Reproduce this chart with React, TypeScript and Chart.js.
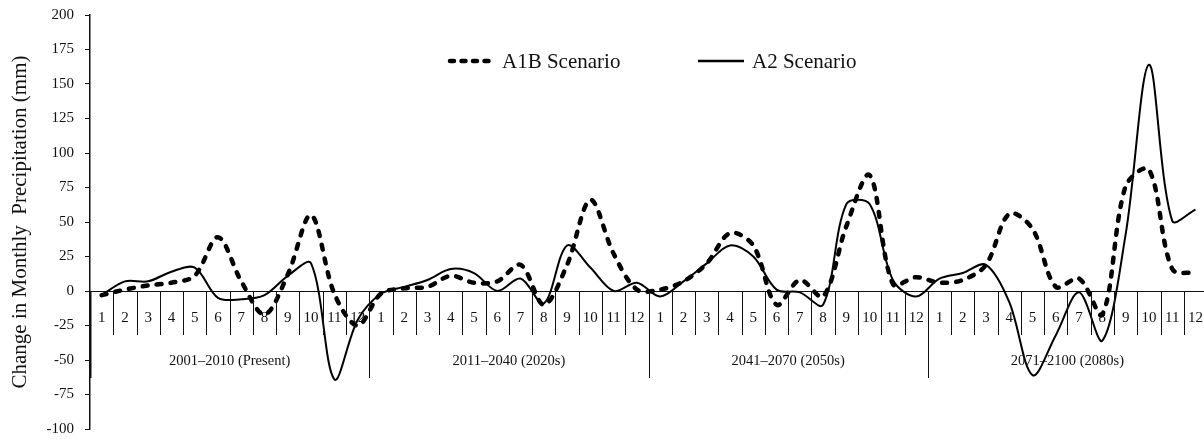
import React, { useEffect, useRef } from "react";
import { Chart, registerables } from "chart.js";

Chart.register(...registerables);

const monthLabels = ["1", "2", "3", "4", "5", "6", "7", "8", "9", "10", "11", "12"];
const periodLabels = [
  "2001–2010 (Present)",
  "2011–2040 (2020s)",
  "2041–2070 (2050s)",
  "2071–2100 (2080s)",
];

const a1bPresent = [-3, 1, 4, 6, 11, 39, 7, -17, 12, 55, -2, -25];
const a1b2020s = [-2, 2, 3, 11, 6, 7, 19, -10, 19, 66, 27, 1];
const a1b2050s = [1, 7, 20, 42, 33, -10, 8, -4, 47, 84, 5, 10];
const a1b2080s = [6, 8, 19, 56, 45, 3, 9, -17, 76, 88, 16, 13];

const a2Present = [-3, 7, 7, 14, 17, -5, -6, -3, 11, 20, -64, -21];
const a22020s = [-2, 3, 8, 16, 13, 0, 9, -9, 33, 17, 0, 6];
const a22050s = [-4, 7, 20, 33, 25, 1, -1, -10, 63, 63, 8, -4];
const a22080s = [9, 13, 19, -8, -61, -32, -1, -36, 41, 164, 51, 59];

const yMin = -100;
const yMax = 200;
const yStep = 25;

const seriesNames = ["A1B Scenario", "A2 Scenario"];
const FONT = "'Liberation Serif', 'Times New Roman', serif";
const SHIFT = 5;

export default function App() {
  const canvasRef = useRef<HTMLCanvasElement | null>(null);

  useEffect(() => {
    if (!canvasRef.current) return;
    const labels = [...monthLabels, ...monthLabels, ...monthLabels, ...monthLabels];
    const a1b = [...a1bPresent, ...a1b2020s, ...a1b2050s, ...a1b2080s];
    const a2 = [...a2Present, ...a22020s, ...a22050s, ...a22080s];

    const decorations = {
      id: "decorations",
      afterDraw(chart: any) {
        const ctx = chart.ctx;
        const xs = chart.scales.x;
        const ys = chart.scales.y;
        const y0 = ys.getPixelForValue(0);
        const step = xs.getPixelForValue(1) - xs.getPixelForValue(0);
        ctx.save();
        ctx.strokeStyle = "#111";
        ctx.lineWidth = 1;
        for (let i = 0; i < labels.length; i++) {
          const x = Math.round(xs.getPixelForValue(i) - step / 2) + 0.5;
          const long = i % monthLabels.length === 0;
          ctx.beginPath();
          ctx.moveTo(x, y0);
          ctx.lineTo(x, y0 + (long ? 87 : 44));
          ctx.lineWidth = long && i === 0 ? 2 : 1;
          ctx.stroke();
        }
        ctx.fillStyle = "#111";
        ctx.font = `14.5px ${FONT}`;
        ctx.textAlign = "center";
        ctx.textBaseline = "middle";
        for (let p = 0; p < periodLabels.length; p++) {
          const a = xs.getPixelForValue(p * 12) - step / 2;
          const b = xs.getPixelForValue(p * 12 + 11) + step / 2;
          ctx.fillText(periodLabels[p], (a + b) / 2, y0 + 70);
        }
        // legend
        const ly = 61 + SHIFT;
        ctx.strokeStyle = "#000";
        ctx.lineCap = "round";
        ctx.lineWidth = 4.5;
        ctx.setLineDash([4, 7.5]);
        ctx.beginPath();
        ctx.moveTo(450, ly);
        ctx.lineTo(491, ly);
        ctx.stroke();
        ctx.setLineDash([]);
        ctx.lineCap = "butt";
        ctx.lineWidth = 2.5;
        ctx.beginPath();
        ctx.moveTo(698, ly);
        ctx.lineTo(744, ly);
        ctx.stroke();
        ctx.font = `21px ${FONT}`;
        ctx.textAlign = "left";
        ctx.fillStyle = "#111";
        ctx.fillText(seriesNames[0], 502, ly + 1);
        ctx.fillText(seriesNames[1], 752, ly + 1);
        ctx.restore();
      },
    };

    const chart = new Chart(canvasRef.current, {
      type: "line",
      data: {
        labels,
        datasets: [
          {
            label: seriesNames[0],
            data: a1b,
            borderColor: "#000",
            borderWidth: 4.5,
            borderDash: [5, 9],
            borderCapStyle: "round",
            pointRadius: 0,
            tension: 0.33,
            fill: false,
          },
          {
            label: seriesNames[1],
            data: a2,
            borderColor: "#000",
            borderWidth: 2,
            pointRadius: 0,
            tension: 0.33,
            fill: false,
          },
        ],
      },
      options: {
        responsive: false,
        animation: false,
        layout: { padding: { top: 0, bottom: 2, left: 0, right: 4 } },
        plugins: { legend: { display: false }, tooltip: { enabled: false } },
        scales: {
          x: {
            type: "category",
            position: { y: 0 } as any,
            offset: true,
            grid: { display: true, drawOnChartArea: false, drawTicks: false },
            border: { display: true, color: "#111", width: 1 },
            ticks: {
              autoSkip: false,
              maxRotation: 0,
              padding: 18,
              color: "#111",
              font: { family: FONT, size: 15 },
            },
          },
          y: {
            type: "linear",
            position: "left",
            min: yMin,
            max: yMax,
            afterFit: (s: any) => {
              s.width = 90;
            },
            grid: { drawOnChartArea: false, tickLength: 5, color: "#111" },
            border: { display: true, color: "#111", width: 1.5 },
            ticks: {
              stepSize: yStep,
              padding: 11,
              color: "#111",
              font: { family: FONT, size: 15 },
            },
            title: {
              display: true,
              text: "Change in Monthly  Precipitation (mm)",
              color: "#111",
              font: { family: FONT, size: 21 },
              padding: { top: 8, bottom: 0 },
            },
          },
        },
      },
      plugins: [decorations],
    });
    return () => chart.destroy();
  }, []);

  return (
    <div
      style={{
        position: "fixed",
        left: 0,
        top: 0,
        width: 1204,
        height: 439,
        overflow: "hidden",
        background: "#fff",
      }}
    >
      <canvas
        ref={canvasRef}
        width={1221}
        height={454}
        style={{ width: 1221, height: 454, display: "block", marginTop: -SHIFT }}
      />
    </div>
  );
}
